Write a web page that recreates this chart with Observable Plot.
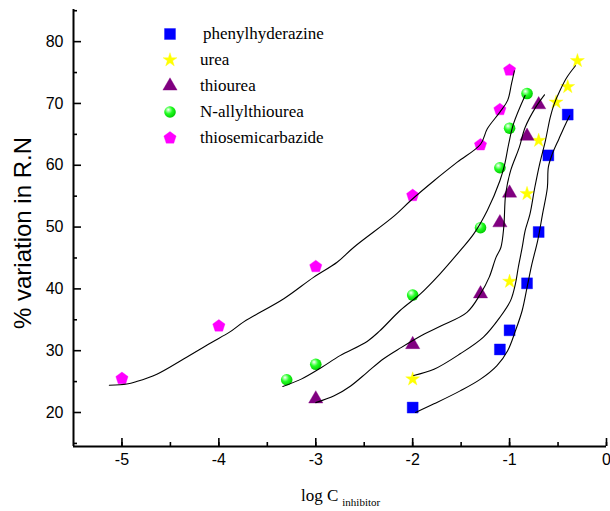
<!DOCTYPE html>
<html><head><meta charset="utf-8">
<script src="https://cdn.jsdelivr.net/npm/d3@7"></script>
<script src="https://cdn.jsdelivr.net/npm/@observablehq/plot@0.6"></script>
<style>
html,body{margin:0;padding:0;background:#fff;}
#wrap{position:relative;width:610px;height:511px;overflow:hidden;}
#legend{position:absolute;left:158px;top:21px;font-family:"Liberation Serif","Times New Roman",serif;font-size:17px;color:#000;}
#legend .row{height:26px;display:flex;align-items:center;}
#legend svg{display:block;}
#xtitle{position:absolute;left:301px;top:487px;font-family:"Liberation Serif","Times New Roman",serif;font-size:17px;line-height:17px;color:#000;white-space:nowrap;}
#xtitle sub{font-size:11px;vertical-align:-5px;margin-left:4px;}
</style></head>
<body><div id="wrap"><div id="chart"></div><div id="legend"></div><div id="xtitle">log C<sub>inhibitor</sub></div></div>
<script>
// ---- data ----
const seriesNames = ["phenylhyderazine", "urea", "thiourea", "N-allylthiourea", "thiosemicarbazide"];
const seriesColors = ["#0000ff", "#ffff00", "#800080", "url(#sphereGrad)", "#ff00ff"];

// measured points (log C, % variation)
const phenylX = [-2, -1.1, -1, -0.82, -0.7, -0.6, -0.4];
const phenylY = [20.8, 30.2, 33.3, 40.9, 49.2, 61.6, 68.2];
const ureaX = [-2, -1, -0.82, -0.7, -0.52, -0.4, -0.3];
const ureaY = [25.4, 41.2, 55.4, 64.0, 70.2, 72.7, 76.9];
const thioureaX = [-3, -2, -1.3, -1.1, -1, -0.82, -0.7];
const thioureaY = [22.2, 31.0, 39.2, 50.7, 55.5, 64.7, 69.8];
const allylX = [-3.3, -3, -2, -1.3, -1.1, -1, -0.82];
const allylY = [25.3, 27.8, 39.0, 49.9, 59.6, 66.0, 71.6];
const semiX = [-5, -4, -3, -2, -1.3, -1.1, -1];
const semiY = [25.5, 34.0, 43.6, 55.1, 63.3, 69.0, 75.4];

// fitted curves
const phenylCurveX = [-1.97, -1.78, -1.51, -1.30, -1.13, -1.02, -0.94, -0.87, -0.82, -0.77, -0.71, -0.66, -0.61, -0.60, -0.56, -0.49, -0.43, -0.38];
const phenylCurveY = [20.0, 21.4, 23.5, 25.4, 27.6, 30.0, 33.2, 36.5, 40.2, 44.0, 47.8, 52.1, 56.4, 59.7, 61.8, 64.3, 66.4, 68.0];
const ureaCurveX = [-1.99, -1.78, -1.51, -1.27, -1.10, -0.99, -0.94, -0.91, -0.87, -0.84, -0.79, -0.74, -0.69, -0.63, -0.58, -0.54, -0.48, -0.41, -0.32];
const ureaCurveY = [26.0, 27.0, 29.5, 32.2, 35.4, 38.1, 40.8, 43.5, 46.7, 49.4, 52.1, 56.4, 60.2, 64.0, 67.8, 69.9, 72.1, 74.2, 76.1];
const thioureaCurveX = [-3.0, -2.81, -2.64, -2.47, -2.30, -2.12, -1.88, -1.71, -1.44, -1.30, -1.21, -1.14, -1.09, -1.06, -1.04, -0.99, -0.90, -0.84, -0.73, -0.64];
const thioureaCurveY = [21.6, 22.7, 24.3, 26.5, 28.7, 30.5, 32.7, 34.0, 36.2, 39.2, 41.9, 45.1, 46.7, 50.0, 55.4, 59.1, 62.9, 66.1, 69.4, 71.4];
const allylCurveX = [-3.34, -3.15, -2.95, -2.75, -2.47, -2.34, -2.13, -1.92, -1.72, -1.51, -1.37, -1.23, -1.10, -1.05, -1.01, -0.96, -0.84];
const allylCurveY = [24.2, 25.4, 27.2, 29.2, 31.5, 33.2, 36.5, 39.2, 42.4, 46.2, 48.9, 52.7, 57.5, 60.2, 63.4, 66.7, 71.3];
const semiCurveX = [-5.13, -4.95, -4.85, -4.64, -4.36, -4.08, -3.89, -3.74, -3.33, -3.02, -2.78, -2.61, -2.19, -2.02, -1.78, -1.54, -1.30, -1.23, -1.10, -1.02, -0.98, -0.95];
const semiCurveY = [24.4, 24.6, 25.0, 26.2, 28.7, 31.3, 33.0, 34.7, 38.4, 41.9, 44.3, 46.7, 51.8, 54.3, 57.5, 60.5, 63.4, 65.9, 68.6, 70.5, 73.2, 75.3];

// axis ticks
const xTicks = [-5, -4, -3, -2, -1, 0];
const xMinorTicks = [-5, -4.5, -4, -3.5, -3, -2.5, -2, -1.5, -1, -0.5, 0];
const yTicks = [20, 30, 40, 50, 60, 70, 80];
const yMinorTicks = [15, 25, 35, 45, 55, 65, 75, 85];
const xDomain = [-5.5, 0];
const yDomain = [14.5, 85.2];
const yTitle = "% variation in R.N";

// ---- build ----
const pointSets = [[phenylX, phenylY], [ureaX, ureaY], [thioureaX, thioureaY], [allylX, allylY], [semiX, semiY]];
const curveSets = [[phenylCurveX, phenylCurveY], [ureaCurveX, ureaCurveY], [thioureaCurveX, thioureaCurveY], [allylCurveX, allylCurveY], [semiCurveX, semiCurveY]];
const points = pointSets.map(([xs, ys], s) => xs.map((x, i) => ({series: seriesNames[s], x, y: ys[i]})));
const curves = curveSets.flatMap(([xs, ys], s) => xs.map((x, i) => ({series: seriesNames[s], x, y: ys[i]})));

const pentagon = {
  draw(context, size) {
    const R = Math.sqrt(size / 2.3776);
    for (let k = 0; k < 5; k++) {
      const a = -Math.PI / 2 + k * 2 * Math.PI / 5;
      const px = R * Math.cos(a), py = R * Math.sin(a);
      if (k === 0) context.moveTo(px, py); else context.lineTo(px, py);
    }
    context.closePath();
  }
};
const symbols = [d3.symbolSquare, d3.symbolStar, d3.symbolTriangle, d3.symbolCircle, pentagon];
const radii = [6.2, 4.4, 5.3, 5.8, 5.6];

const defs = () => {
  const ns = "http://www.w3.org/2000/svg";
  const d = document.createElementNS(ns, "defs");
  d.innerHTML = `<radialGradient id="sphereGrad" cx="0.4" cy="0.38" r="0.65" fx="0.35" fy="0.3">
    <stop offset="0" stop-color="#ffffff"/><stop offset="0.22" stop-color="#9cff9c"/>
    <stop offset="0.5" stop-color="#22ff22"/><stop offset="1" stop-color="#00c800"/></radialGradient>`;
  return d;
};

const sans = "'Liberation Sans', Arial, sans-serif";
const chart = Plot.plot({
  width: 610, height: 511,
  marginLeft: 73, marginRight: 4, marginTop: 9, marginBottom: 65,
  style: {fontFamily: sans, fontSize: "16px", color: "#000", background: "#fff", overflow: "visible"},
  x: {domain: xDomain},
  y: {domain: yDomain},
  marks: [
    defs,
    Plot.axisX({ticks: xMinorTicks, tickSize: -4, text: null, label: null, strokeWidth: 1.6}),
    Plot.axisX({ticks: xTicks, tickSize: -8, tickPadding: 15, tickFormat: d => String(d), label: null, strokeWidth: 1.6, fontSize: 16}),
    Plot.axisY({ticks: yMinorTicks, tickSize: -4, text: null, label: null, strokeWidth: 1.6}),
    Plot.axisY({ticks: yTicks, tickSize: -8, tickPadding: 18, tickFormat: d => String(d), label: null, strokeWidth: 1.6, fontSize: 16}),
    Plot.ruleX([xDomain[0]], {stroke: "#000", strokeWidth: 2}),
    Plot.ruleY([yDomain[0]], {stroke: "#000", strokeWidth: 2}),
    Plot.text([yTitle], {frameAnchor: "left", rotate: -90, dx: -50, dy: 5, fontSize: 24, textAnchor: "middle", fill: "#000"}),
    ...points.map((data, s) => Plot.dot(data, {x: "x", y: "y", symbol: symbols[s], r: radii[s], fill: seriesColors[s], stroke: s === 3 ? "none" : seriesColors[s], strokeOpacity: 0.35, strokeWidth: 1})),
    Plot.line(curves, {x: "x", y: "y", z: "series", stroke: "#000", strokeWidth: 1.1, curve: "catmull-rom"})
  ]
});
document.getElementById("chart").appendChild(chart);

// legend
const legend = d3.select("#legend");
seriesNames.forEach((name, s) => {
  const row = legend.append("div").attr("class", "row");
  const svg = row.append("svg").attr("width", 24).attr("height", 22);
  const size = Math.PI * radii[s] * radii[s];
  svg.append("path")
    .attr("transform", "translate(12,11)")
    .attr("d", d3.symbol(symbols[s], size)())
    .attr("fill", seriesColors[s])
    .attr("stroke", s === 3 ? "none" : seriesColors[s])
    .attr("stroke-opacity", 0.35);
  row.append("span").style("margin-left", s === 0 ? "21px" : "18px").text(name);
});
</script>
</body></html>
